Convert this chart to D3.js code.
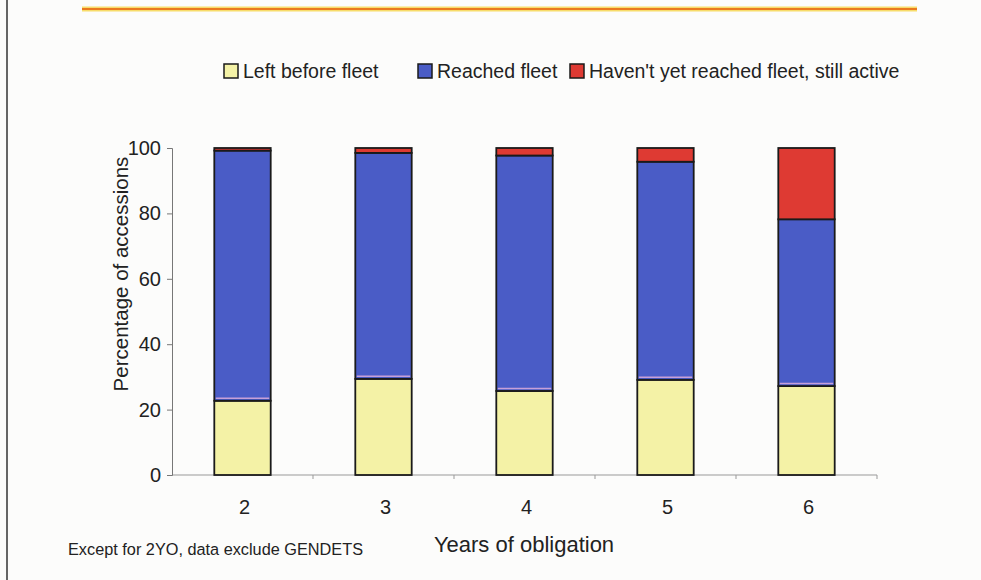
<!DOCTYPE html>
<html>
<head>
<meta charset="utf-8">
<script src="https://cdn.jsdelivr.net/npm/d3@7"></script>
<style>
  html, body { margin: 0; padding: 0; background: #fcfcfb; }
  svg { display: block; font-family: "Liberation Sans", Arial, sans-serif; }
</style>
</head>
<body>
<svg id="chart" width="981" height="580"></svg>
<script>
const categories = ["2", "3", "4", "5", "6"];
const seriesNames = ["Left before fleet", "Reached fleet", "Haven't yet reached fleet, still active"];
const leftBeforeFleet = [22.7, 29.4, 25.7, 29.1, 27.2];
const reachedFleet = [76.5, 69.1, 72.0, 66.7, 51.0];
const stillActive = [0.8, 1.5, 2.3, 4.2, 21.8];
const yTicks = [0, 20, 40, 60, 80, 100];
const colors = ["#f4f2a6", "#4a5cc6", "#de3a33"];

const svg = d3.select("#chart");
const W = 981, H = 580;

// frame line on left
svg.append("line").attr("x1", 7).attr("x2", 7).attr("y1", 0).attr("y2", H)
  .attr("stroke", "#333").attr("stroke-width", 1.5);

// top orange rule with glow
svg.append("line").attr("x1", 82).attr("x2", 917).attr("y1", 9).attr("y2", 9)
  .attr("stroke", "#f7dc6a").attr("stroke-width", 5);
svg.append("line").attr("x1", 82).attr("x2", 917).attr("y1", 9).attr("y2", 9)
  .attr("stroke", "#ea7a1e").attr("stroke-width", 2);

const x = d3.scaleBand().domain(categories).range([172, 877]).paddingInner(0).paddingOuter(0);
const y = d3.scaleLinear().domain([0, 100]).range([475, 148]);

const data = categories.map((c, i) => ({
  cat: c,
  s0: leftBeforeFleet[i],
  s1: reachedFleet[i],
  s2: stillActive[i]
}));
const stack = d3.stack().keys(["s0", "s1", "s2"]);
const layers = stack(data);

const barW = x.bandwidth() * 0.4;

// x axis (light gray line with ticks between categories)
const xAxisG = svg.append("g");
xAxisG.append("line").attr("x1", 172).attr("x2", 877).attr("y1", y(0)).attr("y2", y(0))
  .attr("stroke", "#999").attr("stroke-width", 1);
categories.forEach((c, i) => {
  const xt = x(c) + x.bandwidth();
  xAxisG.append("line").attr("x1", xt).attr("x2", xt).attr("y1", y(0)).attr("y2", y(0) + 4)
    .attr("stroke", "#999").attr("stroke-width", 1);
});
xAxisG.selectAll("text.xl").data(categories).enter().append("text")
  .attr("x", d => x(d) + x.bandwidth() / 2 + 2)
  .attr("y", 514)
  .attr("text-anchor", "middle")
  .attr("font-size", 20)
  .attr("fill", "#222")
  .text(d => d);

// y axis
const yAxis = d3.axisLeft(y).tickValues(yTicks).tickSize(5).tickPadding(6);
const yg = svg.append("g").attr("transform", "translate(172,0)").call(yAxis);
yg.select(".domain").attr("stroke", "#777");
yg.selectAll(".tick line").attr("stroke", "#777");
yg.selectAll(".tick text").attr("font-size", 20).attr("fill", "#222")
  .attr("font-family", "Liberation Sans, Arial, sans-serif");

// bars
layers.forEach((layer, li) => {
  svg.append("g").selectAll("rect").data(layer).enter().append("rect")
    .attr("x", d => x(d.data.cat) + (x.bandwidth() - barW) / 2)
    .attr("y", d => y(d[1]))
    .attr("width", barW)
    .attr("height", d => Math.max(0, y(d[0]) - y(d[1])))
    .attr("fill", colors[li])
    .attr("stroke", "#1a1a1a")
    .attr("stroke-width", 1.8);
});
// pinkish edge at bottom of blue segment
svg.append("g").selectAll("line").data(layers[1]).enter().append("line")
  .attr("x1", d => x(d.data.cat) + (x.bandwidth() - barW) / 2 + 1.5)
  .attr("x2", d => x(d.data.cat) + (x.bandwidth() + barW) / 2 - 1.5)
  .attr("y1", d => y(d[0]) - 2.5)
  .attr("y2", d => y(d[0]) - 2.5)
  .attr("stroke", "#c7a0d8").attr("stroke-width", 1.5);

// axis titles
svg.append("text")
  .attr("transform", "translate(128,274) rotate(-90)")
  .attr("text-anchor", "middle")
  .attr("font-size", 20.5)
  .attr("fill", "#222")
  .text("Percentage of accessions");
svg.append("text")
  .attr("x", 524).attr("y", 552)
  .attr("text-anchor", "middle")
  .attr("font-size", 22)
  .attr("fill", "#222")
  .text("Years of obligation");
svg.append("text")
  .attr("x", 68).attr("y", 555)
  .attr("font-size", 16.3)
  .attr("fill", "#222")
  .text("Except for 2YO, data exclude GENDETS");

// legend
const legendX = [224, 418, 570];
const lg = svg.append("g");
seriesNames.forEach((name, i) => {
  lg.append("rect").attr("x", legendX[i]).attr("y", 64).attr("width", 14).attr("height", 14)
    .attr("fill", colors[i]).attr("stroke", "#1a1a1a").attr("stroke-width", 1.5);
  lg.append("text").attr("x", legendX[i] + 19).attr("y", 78)
    .attr("font-size", 19.5).attr("fill", "#222").text(name);
});
</script>
</body>
</html>
